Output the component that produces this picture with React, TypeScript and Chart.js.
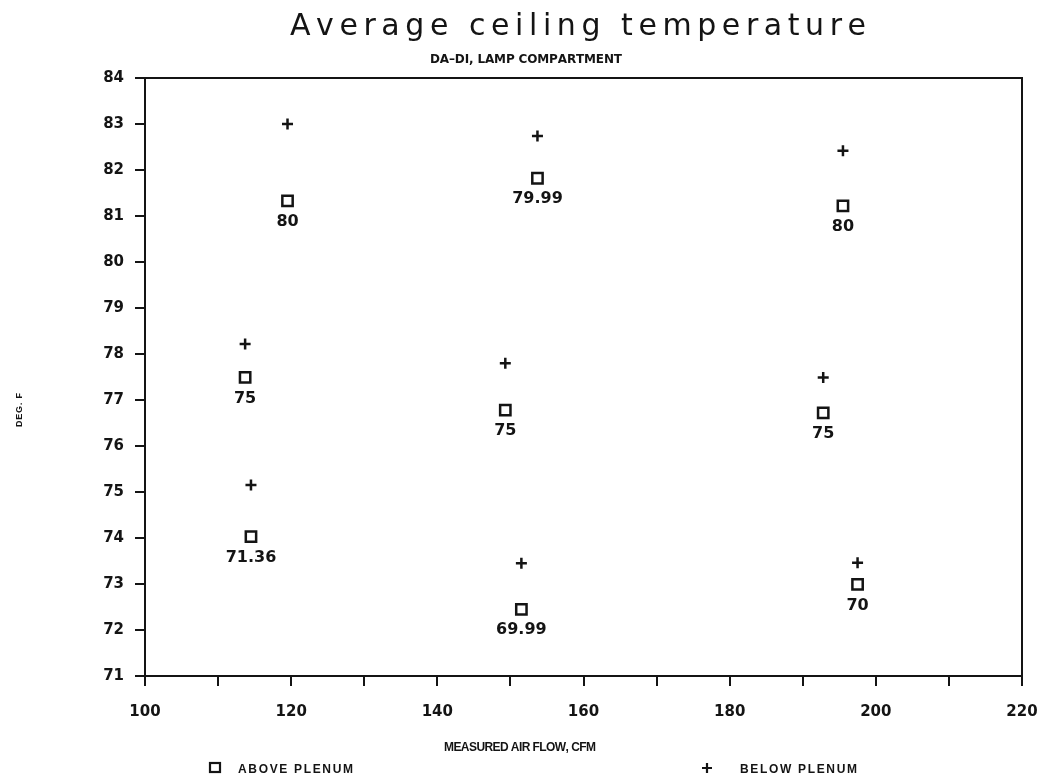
import React, { useEffect, useRef } from 'react';
import { Chart, registerables } from 'chart.js';

Chart.register(...registerables);

// ---- data ----
const airflow = [119.5, 113.7, 114.5, 153.7, 149.3, 151.5, 195.5, 192.8, 197.5];
const aboveTemps = [81.33, 77.49, 74.03, 81.82, 76.78, 72.45, 81.22, 76.72, 72.99];
const aboveLabels = ['80', '75', '71.36', '79.99', '75', '69.99', '80', '75', '70'];
const belowTemps = [83.0, 78.22, 75.15, 82.74, 77.8, 73.45, 82.42, 77.49, 73.46];
const xLabelValues = [100, 120, 140, 160, 180, 200, 220];

const TITLE = 'Average ceiling temperature';
const SUBTITLE = 'DA\u2013DI, LAMP COMPARTMENT';
const X_TITLE = 'MEASURED AIR FLOW, CFM';
const Y_TITLE = 'DEG. F';
const SERIES_NAMES = ['ABOVE PLENUM', 'BELOW PLENUM'];

const INK = '#141414';

function drawSpaced(ctx: CanvasRenderingContext2D, text: string, x0: number, x1: number, y: number) {
  const chars = Array.from(text);
  const widths = chars.map((c) => ctx.measureText(c).width);
  const total = widths.reduce((a, b) => a + b, 0);
  const gap = chars.length > 1 ? (x1 - x0 - total) / (chars.length - 1) : 0;
  let x = x0;
  ctx.textAlign = 'left';
  chars.forEach((c, i) => {
    ctx.fillText(c, x, y);
    x += widths[i] + gap;
  });
}

const textPlugin = {
  id: 'extraTexts',
  afterDraw(chart: any) {
    const ctx: CanvasRenderingContext2D = chart.ctx;
    const a = chart.chartArea;
    ctx.save();
    // frame (top and right sides)
    ctx.strokeStyle = INK;
    ctx.lineWidth = 2;
    ctx.beginPath();
    ctx.moveTo(a.left, a.top);
    ctx.lineTo(a.right, a.top);
    ctx.lineTo(a.right, a.bottom);
    ctx.stroke();

    ctx.fillStyle = INK;
    ctx.textBaseline = 'alphabetic';
    ctx.font = '30px "DejaVu Sans"';
    drawSpaced(ctx, TITLE, 290, 866, 35);
    ctx.font = 'bold 12px "DejaVu Sans"';
    drawSpaced(ctx, SUBTITLE, 430, 622, 63);

    ctx.font = 'bold 12px "Liberation Sans"';
    drawSpaced(ctx, X_TITLE, 444, 596, 751);

    // y title rotated
    ctx.save();
    ctx.translate(22, 410);
    ctx.rotate(-Math.PI / 2);
    ctx.font = 'bold 9px "Liberation Sans"';
    drawSpaced(ctx, Y_TITLE, -17, 17, 0);
    ctx.restore();

    // legend
    const ds0 = chart.data.datasets[0];
    const ds1 = chart.data.datasets[1];
    ctx.lineWidth = 2.2;
    ctx.strokeStyle = ds0.borderColor;
    ctx.strokeRect(210, 763, 10, 9);
    ctx.strokeStyle = ds1.borderColor;
    ctx.beginPath();
    ctx.moveTo(702, 768);
    ctx.lineTo(712, 768);
    ctx.moveTo(707, 763);
    ctx.lineTo(707, 773);
    ctx.stroke();
    ctx.font = 'bold 12px "Liberation Sans"';
    drawSpaced(ctx, ds0.label, 238, 353, 773);
    drawSpaced(ctx, ds1.label, 740, 857, 773);
    ctx.restore();
  },
};

const pointLabelPlugin = {
  id: 'pointLabels',
  afterDatasetsDraw(chart: any) {
    const meta = chart.getDatasetMeta(0);
    const ctx: CanvasRenderingContext2D = chart.ctx;
    ctx.save();
    ctx.font = 'bold 16px "DejaVu Sans"';
    ctx.fillStyle = INK;
    ctx.textAlign = 'center';
    ctx.textBaseline = 'middle';
    meta.data.forEach((el: any, i: number) => {
      ctx.fillText(aboveLabels[i], el.x, el.y + 21);
    });
    ctx.restore();
  },
};

export default function App() {
  const ref = useRef<HTMLCanvasElement | null>(null);

  useEffect(() => {
    document.body.style.margin = '0';
    const canvas = ref.current;
    if (!canvas) return;
    const chart = new Chart(canvas, {
      type: 'scatter',
      data: {
        datasets: [
          {
            label: SERIES_NAMES[0],
            data: airflow.map((x, i) => ({ x, y: aboveTemps[i] })),
            pointStyle: 'rect',
            pointRadius: 7.3,
            borderColor: INK,
            backgroundColor: 'rgba(0,0,0,0)',
            borderWidth: 2.5,
          },
          {
            label: SERIES_NAMES[1],
            data: airflow.map((x, i) => ({ x, y: belowTemps[i] })),
            pointStyle: 'cross',
            pointRadius: 5.5,
            borderColor: INK,
            backgroundColor: INK,
            borderWidth: 2.5,
          },
        ],
      },
      options: {
        responsive: false,
        animation: false,
        devicePixelRatio: 1,
        layout: { padding: { top: 78, right: 25, left: 0, bottom: 0 } },
        plugins: {
          legend: { display: false },
          tooltip: { enabled: false },
          title: { display: false },
        },
        scales: {
          x: {
            type: 'linear',
            min: 100,
            max: 220,
            afterFit: (s: any) => {
              s.height = 784 - 676;
              s.paddingLeft = 0;
              s.paddingRight = 0;
            },
            border: { display: true, color: INK, width: 2 },
            grid: { drawOnChartArea: false, drawTicks: true, tickLength: 10, color: INK, lineWidth: 2 },
            ticks: {
              stepSize: 10,
              padding: 17,
              color: INK,
              font: { family: '"DejaVu Sans"', size: 15, weight: 'bold' },
              callback: (v: any) => (xLabelValues.includes(Number(v)) ? String(v) : ''),
            },
          },
          y: {
            type: 'linear',
            min: 71,
            max: 84,
            afterFit: (s: any) => {
              s.width = 145;
              s.paddingTop = 0;
              s.paddingBottom = 0;
            },
            border: { display: true, color: INK, width: 2 },
            grid: { drawOnChartArea: false, drawTicks: true, tickLength: 10, color: INK, lineWidth: 2 },
            ticks: {
              stepSize: 1,
              padding: 11,
              color: INK,
              font: { family: '"DejaVu Sans"', size: 15, weight: 'bold' },
            },
          },
        },
      },
      plugins: [pointLabelPlugin, textPlugin],
    } as any);
    return () => chart.destroy();
  }, []);

  return <canvas ref={ref} width={1047} height={784} style={{ display: 'block' }} />;
}
